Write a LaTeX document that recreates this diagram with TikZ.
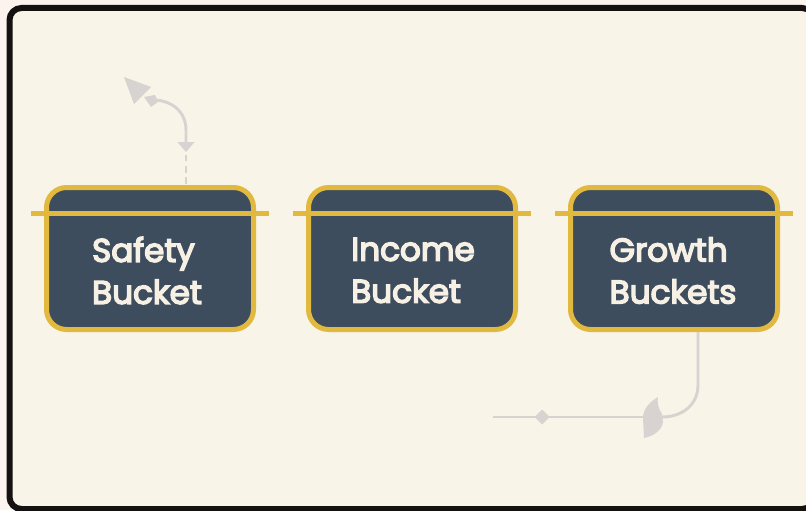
\documentclass[tikz,border=0pt]{standalone}
\usepackage{fontspec}
\setmainfont{Poppins}[FakeBold=4.5]
\usetikzlibrary{calc}
\definecolor{pagebg}{HTML}{FCF3EE}
\definecolor{cardbg}{HTML}{F8F4E8}
\definecolor{frameink}{HTML}{141110}
\definecolor{slate}{HTML}{3E4D5E}
\definecolor{gold}{HTML}{E2B93F}
\definecolor{cream}{HTML}{F6F1E4}
\definecolor{flowgray}{HTML}{D6D3D1}
\tikzset{
  bucket/.style={draw=gold, fill=slate, line width=3.75pt, rounded corners=15pt,
    minimum width=155.25pt, minimum height=106.5pt, inner sep=0pt},
  lid/.style={draw=gold, line width=3.75pt},
  bucketlabel/.style={text=cream, align=left, inner sep=0pt,
    font=\fontsize{24.5}{31.5}\selectfont},
  flow/.style={draw=flowgray, line width=2.2pt},
  flowdash/.style={flow, dash pattern=on 5pt off 3.5pt},
  flowtip/.style={fill=flowgray, draw=none}
}
\begin{document}
\begin{tikzpicture}[x=0.75pt,y=-0.75pt]
  \useasboundingbox (0,0) rectangle (806,510);
  % page and card
  \fill[pagebg] (0,0) rectangle (806,510);
  \draw[frameink, fill=cardbg, line width=4.5pt, rounded corners=9pt]
    (9.5,8) rectangle (814,509);

  % the three buckets
  \node[bucket] (safety) at (150,258.5) {};
  \node[bucket] (income) at (412,258.5) {};
  \node[bucket] (growth) at (674,258.5) {};
  \foreach \b in {safety,income,growth}{
    \draw[lid] ($(\b.north west)+(-13,28.5)$) -- ($(\b.north east)+(13,28.5)$);
  }
  \node[bucketlabel] (safetytext) at ($(safety.center)+(-3,12)$) {Safety\\Bucket};
  \node[bucketlabel] (incometext) at ($(income.center)+(1,12)$) {Income\\Bucket};
  \node[bucketlabel] (growthtext) at ($(growth.center)+(-1,12)$) {Growth\\Buckets};

  % flow leaving the safety bucket upwards
  \coordinate (upstart) at ($(safety.north)+(36,-1)$);
  \coordinate (upmark) at (186,152);
  \coordinate (upend) at (153,100);
  \draw[flowdash] (upstart) -- (upmark);
  \fill[flowtip] (upmark) -- (177.5,142) -- (194.5,142) -- cycle;
  \draw[flow] (186,142) -- (186,130) .. controls (186,112) and (172,100) .. (upend);
  \fill[flowtip] (144,97) -- (155,95) -- (158,102) -- (151,107) -- cycle;
  \fill[flowtip] (124,77) -- (151,87) -- (134,104) -- cycle;

  % flow leaving the growth buckets downwards and to the left
  \coordinate (downstart) at ($(growth.south)+(24,0)$);
  \coordinate (turn) at (662,417);
  \coordinate (tailend) at (493,417);
  \draw[flow] (downstart) -- (698,385) .. controls (698,405) and (682,417) .. (turn);
  \draw[flow] (645,417) -- (tailend);
  \fill[flowtip] (542,409.5) -- (549.5,417) -- (542,424.5) -- (534.5,417) -- cycle;
  \fill[flowtip] (658,397) .. controls (648,403) and (643,410) .. (643,418)
    -- (644,438) .. controls (654,436) and (662,430) .. (663,422)
    -- (662,414) .. controls (658,408) and (657,402) .. cycle;
\end{tikzpicture}
\end{document}
